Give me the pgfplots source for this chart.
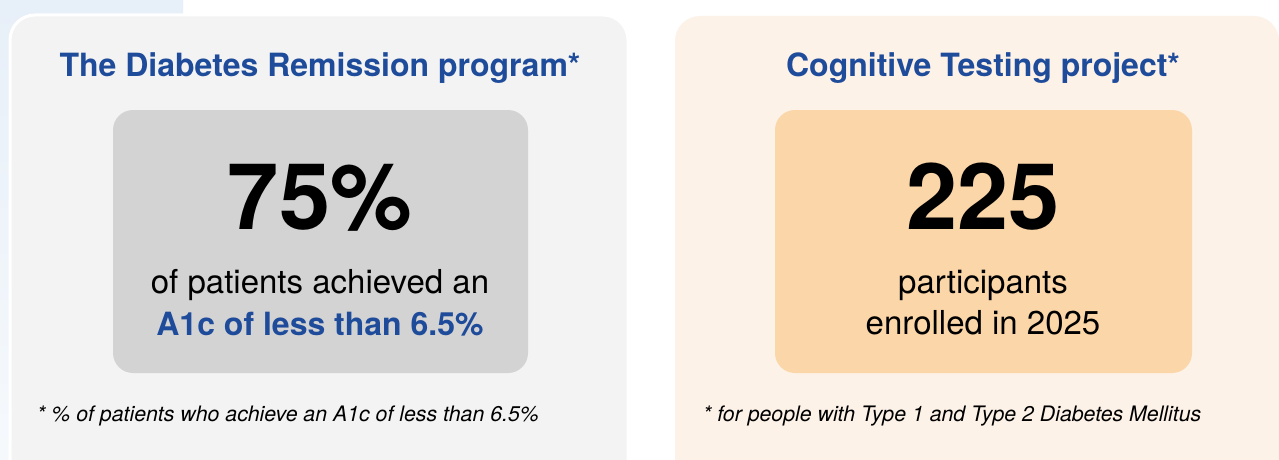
\documentclass[border=0pt]{standalone}
\usepackage{pgfplots}
\pgfplotsset{compat=1.18}
\usepackage{fontspec}
\setmainfont{TeX Gyre Heros}
\definecolor{titleblue}{HTML}{1E4B9A}
\definecolor{bgblue}{HTML}{E7EFF8}
\definecolor{bgblue2}{HTML}{F6F9FC}
\definecolor{cardgray}{HTML}{F3F3F3}
\definecolor{cardpeach}{HTML}{FDF2E8}
\definecolor{innergray}{HTML}{D3D3D3}
\definecolor{innerpeach}{HTML}{FBD6A8}
\begin{document}
\begin{tikzpicture}
\begin{axis}[name=ax, width=1279pt, height=460pt, scale only axis,
  xmin=0, xmax=1279, ymin=0, ymax=460, y dir=reverse, hide axis, clip=true]
\fill[white] (axis cs:0,0) rectangle (axis cs:1279,460);
\shade[top color=bgblue, bottom color=bgblue2] (axis cs:0,0) rectangle (axis cs:183,460);
\filldraw[fill=cardgray, draw=white, line width=3pt, rounded corners=25pt] (axis cs:10,15) rectangle (axis cs:628,485);
\fill[cardpeach, rounded corners=25pt] (axis cs:675,16) rectangle (axis cs:1279,485);
\fill[innergray, rounded corners=20pt] (axis cs:113,110) rectangle (axis cs:528,373);
\fill[innerpeach, rounded corners=20pt] (axis cs:775,110) rectangle (axis cs:1192,373);
% titles
\node[anchor=base, inner sep=0pt, text=titleblue, font=\fontsize{32}{38}\selectfont\bfseries] at (axis cs:320,76) {The Diabetes Remission program*};
\node[anchor=base, inner sep=0pt, text=titleblue, font=\fontsize{32}{38}\selectfont\bfseries] at (axis cs:983,76) {Cognitive Testing project*};
% big numbers
\node[anchor=base, inner sep=0pt, font=\fontsize{92}{110}\selectfont\bfseries] at (axis cs:320,229) {75\%};
\node[anchor=base, inner sep=0pt, font=\fontsize{92}{110}\selectfont\bfseries] at (axis cs:983,229) {225};
% descriptions
\node[anchor=base, inner sep=0pt, font=\fontsize{33}{38}\selectfont] at (axis cs:320,293) {of patients achieved an};
\node[anchor=base, inner sep=0pt, text=titleblue, font=\fontsize{32}{38}\selectfont\bfseries] at (axis cs:320,335) {A1c of less than 6.5\%};
\node[anchor=base, inner sep=0pt, font=\fontsize{33}{38}\selectfont] at (axis cs:983,293) {participants};
\node[anchor=base, inner sep=0pt, font=\fontsize{33}{38}\selectfont] at (axis cs:983,334) {enrolled in 2025};
% footnotes
\node[anchor=base west, inner sep=0pt, font=\fontsize{21.3}{25}\selectfont\itshape] at (axis cs:37,421) {* \% of patients who achieve an A1c of less than 6.5\%};
\node[anchor=base west, inner sep=0pt, font=\fontsize{21.3}{25}\selectfont\itshape] at (axis cs:703,421) {* for people with Type 1 and Type 2 Diabetes Mellitus};
\end{axis}
\pgfresetboundingbox
\path[use as bounding box] (ax.south west) rectangle (ax.north east);
\end{tikzpicture}
\end{document}
